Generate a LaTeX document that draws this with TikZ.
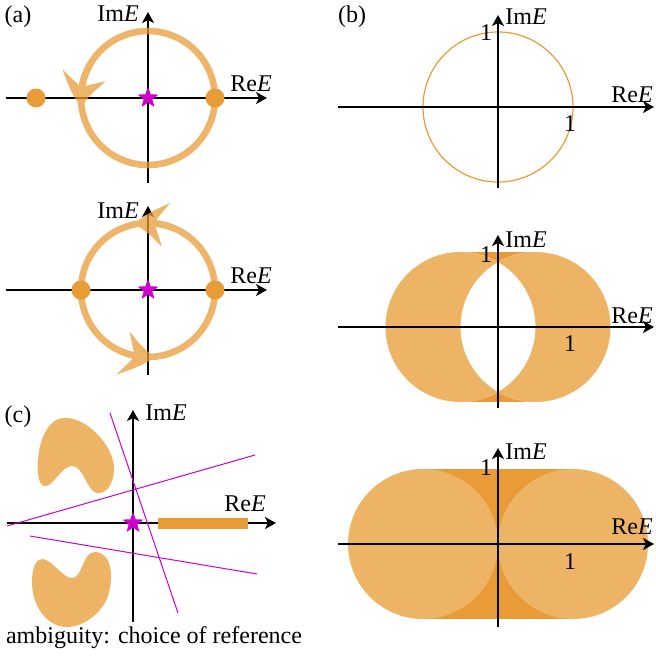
\documentclass[tikz,border=0pt]{standalone}
\usepackage{fontspec}
\setmainfont{LiberationSerif}[Extension=.ttf,UprightFont=*-Regular,ItalicFont=*-Italic,BoldFont=*-Bold,BoldItalicFont=*-BoldItalic]
\usetikzlibrary{arrows.meta,shapes.geometric,bending}
\definecolor{myor}{RGB}{232,155,55}
\definecolor{mylight}{RGB}{238,180,102}
\definecolor{mymag}{RGB}{205,0,205}
\begin{document}
\begin{tikzpicture}[x=0.5pt,y=-0.5pt,
 axis/.style={line width=1.4pt,-{Stealth[length=5.5pt,width=6pt,inset=1.5pt]}},
 lbl/.style={font=\fontsize{12}{14}\selectfont, inner sep=0pt},
 starmark/.style={star,star points=5,star point ratio=2.4,fill=mymag,draw=none,minimum size=11pt,inner sep=0pt},
 dot/.style={circle,fill=myor,minimum size=9.5pt,inner sep=0pt},
 ring/.style={draw=myor,line width=3.3pt},
 head/.style={draw=myor,line width=3.3pt,-{Stealth[length=16pt,width=22pt,inset=6pt,bend]}},
 magline/.style={draw=mymag,line width=0.5pt},
 blob/.style={fill=mylight,draw=none},
]
\useasboundingbox (0,0) rectangle (656,658);

% ---------- (a) top ----------
\node[lbl] (la) at (18,17) {(a)};
\coordinate (a1c) at (148,98);
\draw[axis] (6,98) -- (267,98);
\draw[axis] (148,183) -- (148,12);
\node[lbl] (a1im) at (118,14) {Im\textit{E}};
\node[lbl] (a1re) at (251,84) {Re\textit{E}};
\begin{scope}[transparency group, opacity=0.75]
 \draw[ring] (a1c) circle[radius=67];
 \draw[head] ([shift={(-150:67)}]a1c) arc[start angle=-150, end angle=-188, radius=67];
\end{scope}
\node[dot] (a1d1) at (36,98) {};
\node[dot] (a1d2) at (215,98) {};
\node[starmark] (a1s) at (a1c) {};

% ---------- (a) bottom ----------
\coordinate (a2c) at (148,290);
\draw[axis] (6,290) -- (267,290);
\draw[axis] (148,375) -- (148,206);
\node[lbl] (a2im) at (118,211) {Im\textit{E}};
\node[lbl] (a2re) at (251,276) {Re\textit{E}};
\begin{scope}[transparency group, opacity=0.75]
 \draw[ring] (a2c) circle[radius=67];
 \draw[head] ([shift={(-66:67)}]a2c) arc[start angle=-66, end angle=-102, radius=67];
 \draw[head] ([shift={(-248:67)}]a2c) arc[start angle=-248, end angle=-276, radius=67];
\end{scope}
\node[dot] (a2d1) at (81,290) {};
\node[dot] (a2d2) at (215,290) {};
\node[starmark] (a2s) at (a2c) {};

% ---------- (b) top ----------
\node[lbl] (lb) at (352,17) {(b)};
\coordinate (b1c) at (498,107);
\draw[myor,line width=0.6pt] (b1c) circle[radius=75];
\draw[axis] (338,107) -- (654,107);
\draw[axis] (498,188) -- (498,15);
\node[lbl] (b1im) at (526,17) {Im\textit{E}};
\node[lbl] (b1re) at (632,95) {Re\textit{E}};
\node[lbl] (b1one) at (486,33) {1};
\node[lbl] (b1onex) at (570,124) {1};

% ---------- (b) middle ----------
\fill[myor] (460.5,252) rectangle (535.5,402);
\fill[white] (460.5,327) circle[radius=75] (535.5,327) circle[radius=75];
\fill[mylight,even odd rule] (460.5,327) circle[radius=75] (535.5,327) circle[radius=75];
\draw[axis] (338,327) -- (654,327);
\draw[axis] (498,408) -- (498,235);
\node[lbl] (b2im) at (526,240) {Im\textit{E}};
\node[lbl] (b2re) at (632,316) {Re\textit{E}};
\node[lbl] (b2one) at (486,255) {1};
\node[lbl] (b2onex) at (570,344) {1};

% ---------- (b) bottom ----------
\fill[myor] (423,469) rectangle (573,619);
\fill[mylight] (423,544) circle[radius=75] (573,544) circle[radius=75];
\draw[axis] (338,544) -- (654,544);
\draw[axis] (498,627) -- (498,448);
\node[lbl] (b3im) at (526,452) {Im\textit{E}};
\node[lbl] (b3re) at (632,527) {Re\textit{E}};
\node[lbl] (b3one) at (486,468) {1};
\node[lbl] (b3onex) at (570,562) {1};

% ---------- (c) ----------
\node[lbl] (lc) at (18,417) {(c)};
\fill[blob] (63,418) .. controls (86,416) and (115,446) .. (114,470)
  .. controls (113,488) and (104,494) .. (97,493)
  .. controls (87,492) and (84,466) .. (72,466)
  .. controls (61,466) and (53,488) .. (44,486)
  .. controls (32,484) and (36,420) .. (63,418) -- cycle;
\fill[blob] (95,552) .. controls (112,552) and (114,578) .. (108,596)
  .. controls (101,615) and (82,627) .. (67,627)
  .. controls (46,627) and (32,605) .. (32,582)
  .. controls (32,566) and (37,558) .. (43,559)
  .. controls (53,561) and (63,578) .. (72,578)
  .. controls (83,578) and (82,552) .. (95,552) -- cycle;
\draw[axis] (7,523) -- (276,523);
\draw[axis] (133,622) -- (133,410);
\fill[myor] (158,517.5) rectangle (248,528.5);
\draw[magline] (110,413) -- (178,613);
\draw[magline] (7,526) -- (255,455);
\draw[magline] (30,536) -- (257,574);
\node[starmark] (cs) at (133,523) {};
\node[lbl] (cim) at (166,413) {Im\textit{E}};
\node[lbl] (cre) at (245,504) {Re\textit{E}};
\node[lbl] (ctext) at (154,638) {ambiguity: choice of reference};
\end{tikzpicture}
\end{document}
